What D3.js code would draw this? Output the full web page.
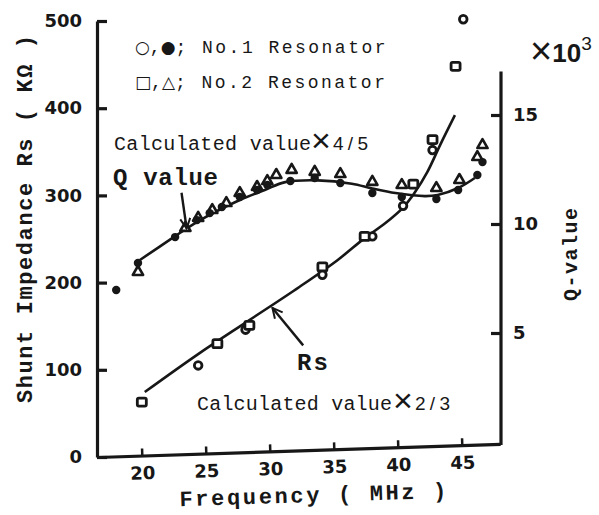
<!DOCTYPE html>
<html lang="en">
<head>
<meta charset="UTF-8" />
<title>Shunt Impedance and Q value</title>
<script src="https://cdn.jsdelivr.net/npm/d3@7"></script>
<style>
  body { margin: 0; background: #fff; }
</style>
</head>
<body>
<script>
// Rs measured (kOhm), resonator No.1 (open circles)
var rsFreq1 = [24.4, 28.1, 34.1, 38.0, 40.4, 42.7, 45.1];
var rsVal1 = [105, 146, 209, 253, 288, 352, 502];
// Rs measured, resonator No.2 (open squares)
var rsFreq2 = [20.0, 25.9, 28.4, 34.1, 37.4, 41.2, 42.7, 44.5];
var rsVal2 = [63, 130, 151, 218, 253, 313, 364, 448];

// Q value (x10^3), resonator No.1 (filled dots)
var qFreq1 = [18.0, 19.7, 22.6, 24.3, 25.3, 26.25, 27.65, 29.0, 29.8, 31.6, 33.5, 35.5, 38.0, 40.3, 43.0, 44.7, 46.2, 46.6];
var qVal1 = [6.97, 8.21, 9.40, 10.18, 10.50, 10.78, 11.24, 11.56, 11.79, 11.97, 12.11, 11.88, 11.42, 11.24, 11.15, 11.56, 12.25, 12.84];
// Q value, resonator No.2 (open triangles)
var qFreq2 = [19.7, 23.4, 24.4, 25.5, 26.6, 27.65, 29.0, 29.8, 30.5, 31.7, 33.5, 35.5, 38.0, 40.3, 43.0, 44.8, 46.2, 46.6];
var qVal2 = [7.8, 9.82, 10.28, 10.64, 10.96, 11.42, 11.70, 11.97, 12.25, 12.48, 12.39, 12.29, 11.93, 11.79, 11.65, 12.02, 13.07, 13.62];

// calculated curves
var rsCalcFreq = [20.23, 24.4, 28.4, 32.3, 35.3, 37.4, 39.0, 40.4, 41.3, 42.3, 43.3, 44.45];
var rsCalcVal = [74.5, 118, 157, 195, 226, 251, 268, 286, 303, 327, 358, 392];
var qCalcFreq = [19.85, 22.4, 24.3, 27.65, 29.6, 31.2, 33.75, 36.4, 38.0, 39.8, 42.1, 43.1, 44.7, 46.0];
var qCalcVal = [8.35, 9.36, 10.09, 11.10, 11.56, 11.92, 12.0, 11.85, 11.63, 11.42, 11.28, 11.33, 11.65, 12.11];

// tick labels
var xTicks = [20, 25, 30, 35, 40, 45];
var leftTicks = [0, 100, 200, 300, 400, 500];
var rightTicks = [5, 10, 15];

var w = 599, h = 515;
var ink = "#171717";
var mono = "'Liberation Mono', 'DejaVu Sans Mono', monospace";
var sans = "'DejaVu Sans', sans-serif";

var svg = d3.select("body").append("svg")
  .attr("width", w)
  .attr("height", h);

var x = d3.scaleLinear().domain([16.5, 48]).range([97, 500.4]);
var yL = d3.scaleLinear().domain([0, 500]).range([457, 21]);
var yR = d3.scaleLinear().domain([0, 17]).range([442, 71.4]);

function zip(a, b) {
  return a.map(function(d, i) { return [d, b[i]]; });
}

// arrow head
svg.append("defs").append("marker")
  .attr("id", "head")
  .attr("viewBox", "0 0 12 12")
  .attr("refX", 11).attr("refY", 6)
  .attr("markerWidth", 12).attr("markerHeight", 12)
  .attr("markerUnits", "userSpaceOnUse")
  .attr("orient", "auto")
  .append("path")
  .attr("d", "M1,1L11,6L1,11")
  .attr("fill", "none")
  .attr("stroke", ink)
  .attr("stroke-width", 2);

// ---- axes ----
function styleAxis(g, fs) {
  g.attr("font-family", sans).attr("font-size", fs).attr("font-weight", "bold");
  g.selectAll("path, line").attr("stroke", ink).attr("stroke-width", 3.2);
  g.selectAll("text").attr("fill", ink);
}

var gx = svg.append("g")
  .attr("transform", "translate(97,457) rotate(-1.85) translate(-97,0)")
  .call(d3.axisBottom(x).tickValues(xTicks).tickSize(-7).tickSizeOuter(0).tickPadding(11));
styleAxis(gx, 18);
gx.selectAll("line").attr("stroke-width", 2.5);

gx.append("text")
  .attr("x", 178).attr("y", 52)
  .attr("text-anchor", "start")
  .attr("textLength", 267)
  .attr("lengthAdjust", "spacing")
  .style("font-family", mono).style("font-size", "22px").style("font-weight", "bold")
  .attr("fill", ink)
  .text("Frequency  ( MHz )");

var gl = svg.append("g")
  .attr("transform", "translate(97,0)")
  .call(d3.axisLeft(yL).tickValues(leftTicks).tickSize(-10).tickSizeOuter(0).tickPadding(15));
styleAxis(gl, 18);

var gr = svg.append("g")
  .attr("transform", "translate(501,0)")
  .call(d3.axisRight(yR).tickValues(rightTicks).tickSize(-10).tickSizeOuter(0).tickPadding(12));
styleAxis(gr, 18);
gr.select(".domain").attr("d", "M0," + (yR(0) + 3) + "V" + yR(17));

// axis titles
svg.append("text")
  .attr("transform", "translate(32,403) rotate(-90)")
  .attr("textLength", 368)
  .attr("lengthAdjust", "spacing")
  .style("font-family", mono).style("font-size", "22px").style("font-weight", "bold")
  .attr("fill", ink)
  .text("Shunt Impedance Rs ( K\u03A9 )");

svg.append("text")
  .attr("transform", "translate(577,301) rotate(-90)")
  .attr("textLength", 93)
  .attr("lengthAdjust", "spacing")
  .style("font-family", mono).style("font-size", "20px").style("font-weight", "bold")
  .attr("fill", ink)
  .text("Q-value");

var mult = svg.append("text")
  .attr("x", 530).attr("y", 62)
  .attr("fill", ink)
  .style("font-family", "'Liberation Sans', sans-serif");
mult.append("tspan").style("font-size", "38px").attr("dy", 2).text("\u00D7");
mult.append("tspan").style("font-size", "26px").style("font-weight", "bold").attr("dy", -2).text("10");
mult.append("tspan").attr("dy", -12).style("font-size", "19px").text("3");

// ---- calculated curves ----
var lineRs = d3.line()
  .x(function(d) { return x(d[0]); })
  .y(function(d) { return yL(d[1]); })
  .curve(d3.curveCatmullRom.alpha(0.5));
var lineQ = d3.line()
  .x(function(d) { return x(d[0]); })
  .y(function(d) { return yR(d[1]); })
  .curve(d3.curveCatmullRom.alpha(0.5));

svg.append("path")
  .datum(zip(rsCalcFreq, rsCalcVal))
  .attr("d", lineRs)
  .attr("fill", "none").attr("stroke", ink).attr("stroke-width", 2.6);

svg.append("path")
  .datum(zip(qCalcFreq, qCalcVal))
  .attr("d", lineQ)
  .attr("fill", "none").attr("stroke", ink).attr("stroke-width", 2.6);

// ---- measured points ----
svg.append("g").selectAll("circle")
  .data(zip(rsFreq1, rsVal1))
  .enter().append("circle")
  .attr("cx", function(d) { return x(d[0]); })
  .attr("cy", function(d) { return yL(d[1]); })
  .attr("r", 3.8)
  .attr("fill", "#fff").attr("stroke", ink).attr("stroke-width", 2.8);

svg.append("g").selectAll("rect")
  .data(zip(rsFreq2, rsVal2))
  .enter().append("rect")
  .attr("x", function(d) { return x(d[0]) - 4.5; })
  .attr("y", function(d) { return yL(d[1]) - 4; })
  .attr("width", 9).attr("height", 8).attr("rx", 1.5)
  .attr("fill", "#fff").attr("stroke", ink).attr("stroke-width", 2.8);

var tri = d3.symbol().type(d3.symbolTriangle).size(46);
svg.append("g").selectAll("path")
  .data(zip(qFreq2, qVal2))
  .enter().append("path")
  .attr("d", tri)
  .attr("transform", function(d) { return "translate(" + x(d[0]) + "," + yR(d[1]) + ")"; })
  .attr("fill", "#fff").attr("stroke", ink).attr("stroke-width", 2.6)
  .attr("stroke-linejoin", "round");

svg.append("g").selectAll("circle")
  .data(zip(qFreq1, qVal1))
  .enter().append("circle")
  .attr("cx", function(d) { return x(d[0]); })
  .attr("cy", function(d) { return yR(d[1]); })
  .attr("r", 4.2)
  .attr("fill", ink);

// ---- annotations ----
var arrows = [
  { from: [23.1, 303], to: [23.5, 262] },
  { from: [32.6, 128], to: [30.2, 171] }
];
svg.append("g").selectAll("line")
  .data(arrows)
  .enter().append("line")
  .attr("x1", function(d) { return x(d.from[0]); })
  .attr("y1", function(d) { return yL(d.from[1]); })
  .attr("x2", function(d) { return x(d.to[0]); })
  .attr("y2", function(d) { return yL(d.to[1]); })
  .attr("stroke", ink).attr("stroke-width", 2.4)
  .attr("marker-end", "url(#head)");

function label(txt, px, py, len, size, weight) {
  return svg.append("text")
    .attr("x", px).attr("y", py)
    .attr("textLength", len)
    .attr("lengthAdjust", "spacing")
    .style("font-family", mono).style("font-size", size + "px").style("font-weight", weight)
    .attr("fill", ink)
    .text(txt);
}

function legendLine(sym1, sym2, txt, px, py) {
  var t = svg.append("text")
    .attr("x", px).attr("y", py)
    .attr("fill", ink)
    .style("font-family", mono).style("font-size", "18px");
  t.append("tspan").style("font-family", sans).style("font-size", "17px").text(sym1);
  t.append("tspan").text(",");
  t.append("tspan").style("font-family", sans).style("font-size", "17px").text(sym2);
  t.append("tspan").attr("textLength", 210).attr("lengthAdjust", "spacing").text("; " + txt);
}
legendLine("\u25CB", "\u25CF", "No.1 Resonator", 135, 53);
legendLine("\u25A1", "\u25B3", "No.2 Resonator", 135, 88);

label("Calculated value", 114, 150, 197, 20, "normal");
label("Calculated value", 197, 410, 195, 20, "normal");
label("Q value", 113, 185, 105, 24, "bold");
label("Rs", 297, 370, 31, 24, "bold");

function factor(txt, px, py) {
  svg.append("text")
    .attr("x", px - 1).attr("y", py + 2)
    .attr("fill", ink)
    .style("font-family", "'Liberation Sans', sans-serif").style("font-size", "34px")
    .text("\u00D7");
  svg.append("text")
    .attr("x", px + 21).attr("y", py)
    .attr("textLength", 35)
    .attr("lengthAdjust", "spacing")
    .attr("fill", ink)
    .style("font-family", "'Liberation Sans', sans-serif").style("font-size", "19px")
    .text(txt);
}
factor("4/5", 312, 150);
factor("2/3", 394, 410);
</script>
</body>
</html>
